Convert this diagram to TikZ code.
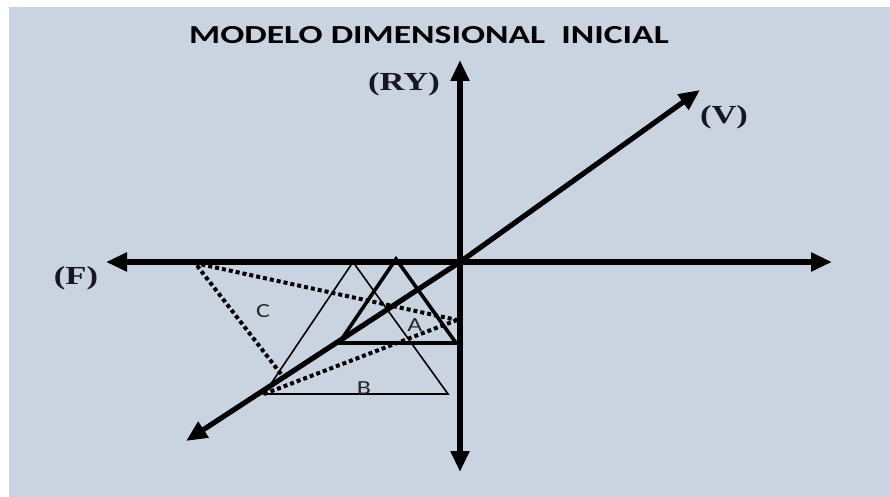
\documentclass[tikz,border=0pt]{standalone}
\usepackage{fontspec}
\setmainfont{Liberation Serif}
\newfontfamily\calfont{Carlito}
\usetikzlibrary{arrows.meta}
\definecolor{bg}{RGB}{202,212,224}
\definecolor{ink}{RGB}{22,22,36}
\begin{document}
\begin{tikzpicture}[x=1pt,y=-1pt,
  axis/.style={line width=5.2pt,draw=black,
    {Triangle[length=21pt,width=18pt]}-{Triangle[length=21pt,width=18pt]}},
  thicktri/.style={draw=black,line width=3.6pt,line join=miter},
  thintri/.style={draw=black,line width=1.6pt,line join=miter},
  dotline/.style={draw=black,line width=4pt,dash pattern=on 4pt off 3pt},
  axlabel/.style={text=ink,font=\fontsize{26}{26}\selectfont\bfseries,inner sep=0pt},
  trilabel/.style={text=black!85,font=\calfont\fontsize{20}{20}\selectfont,inner sep=0pt},
  titlelab/.style={text=black,font=\calfont\fontsize{26}{26}\selectfont\bfseries,inner sep=0pt}]
\useasboundingbox (0,0) rectangle (890,497);
\fill[white] (0,0) rectangle (890,497);
\fill[bg] (9,7) rectangle (890,497);

% points
\coordinate (O) at (460,262);
\coordinate (Fend) at (106,262);
\coordinate (Hend) at (832,262);
\coordinate (RYend) at (460,60);
\coordinate (Dend) at (460,472);
\coordinate (Vend) at (700,90);
\coordinate (Vlow) at (186,441);

\coordinate (a1) at (396,259);
\coordinate (a2) at (339,343);
\coordinate (a3) at (456,343);
\coordinate (b1) at (353,262);
\coordinate (b2) at (264,394);
\coordinate (b3) at (448,394);
\coordinate (c1) at (195,263);
\coordinate (c2) at (457,320);
\coordinate (c3) at (281,374);

% dotted triangle C
\draw[dotline] (c3) -- (c1) -- (c2);
\draw[dotline] (b2) -- (c2);
% thin triangle B
\draw[thintri] (b1) -- (b2) -- (b3) -- cycle;
% thick triangle A
\draw[thicktri] (a1) -- (a2) -- (a3) -- cycle;

% axes
\draw[axis] (Fend) -- (Hend);
\draw[axis] (RYend) -- (Dend);
\draw[axis,line join=round] (Vlow) -- (O) -- (Vend);

% labels
\node[titlelab] (title) at (429,35) {\scalebox{1.37}[1]{MODELO DIMENSIONAL\ \ INICIAL}};
\node[axlabel] (RY) at (404,84) {\scalebox{1.33}[1]{(RY)}};
\node[axlabel] (F) at (76,278) {\scalebox{1.33}[1]{(F)}};
\node[axlabel] (V) at (724,117) {\scalebox{1.33}[1]{(V)}};
\node[trilabel] (C) at (263,311) {\scalebox{1.3}[1]{C}};
\node[trilabel] (A) at (415,325) {\scalebox{1.3}[1]{A}};
\node[trilabel] (B) at (364,388) {\scalebox{1.3}[1]{B}};
\end{tikzpicture}
\end{document}
